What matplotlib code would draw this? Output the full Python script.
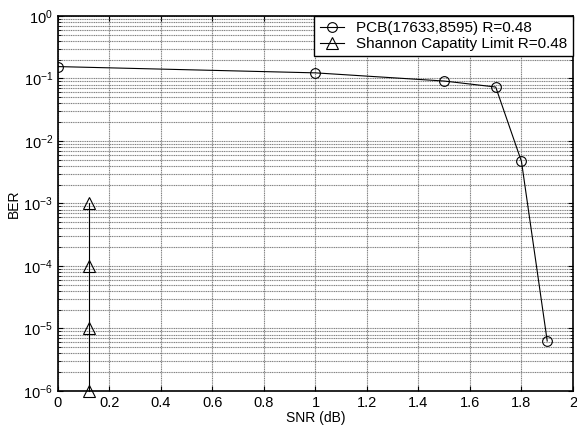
import numpy as np
import matplotlib
matplotlib.use('Agg')
from matplotlib import pyplot as plt
from matplotlib.ticker import NullFormatter

plt.rcParams['font.family'] = ['Liberation Sans', 'DejaVu Sans']

# PCB curve
snr_pcb = [0.0, 1.0, 1.5, 1.7, 1.8, 1.9]
ber_pcb = [0.155, 0.123, 0.091, 0.073, 4.7e-3, 6.3e-6]

# Shannon limit
snr_shannon = [0.12, 0.12, 0.12, 0.12]
ber_shannon = [1e-3, 1e-4, 1e-5, 1e-6]

xtick_labels = ['0', '0.2', '0.4', '0.6', '0.8', '1', '1.2', '1.4', '1.6', '1.8', '2']

fig = plt.figure(figsize=(5.77, 4.32), dpi=100)
ax = fig.add_axes([0.1005, 0.095, 0.8925, 0.868])

ax.semilogy(snr_pcb, ber_pcb, 'k-o', mfc='none', ms=7, lw=0.8, mew=0.8,
            label='PCB(17633,8595) R=0.48')
ax.semilogy(snr_shannon, ber_shannon, 'k-^', mfc='none', ms=8, lw=0.8, mew=0.8,
            label='Shannon Capatity Limit R=0.48', clip_on=False)

ax.set_xlim(0, 2)
ax.set_ylim(1e-6, 1)
ax.set_xticks(np.arange(0, 2.01, 0.2))
ax.set_xticklabels(xtick_labels)
ax.yaxis.set_minor_formatter(NullFormatter())
ax.grid(True, which='major', color='#808080', ls=(0, (1, 0.6)), lw=0.8)
ax.grid(True, which='minor', axis='y', color='#808080', ls=(0, (1, 0.6)), lw=0.8)
ax.tick_params(which='both', direction='in', top=True, right=True, labelsize=10.5)
for s in ax.spines.values():
    s.set_linewidth(1.2)

ax.set_xlabel('SNR (dB)', fontsize=10, labelpad=1)
ax.set_ylabel('BER', fontsize=10, labelpad=2)

leg = ax.legend(loc='upper right', fontsize=11, fancybox=False, edgecolor='k',
                framealpha=1, borderaxespad=0, handlelength=1.6, labelspacing=0.1,
                borderpad=0.35)
leg.get_frame().set_linewidth(1.0)

plt.savefig('out.png', dpi=100)
